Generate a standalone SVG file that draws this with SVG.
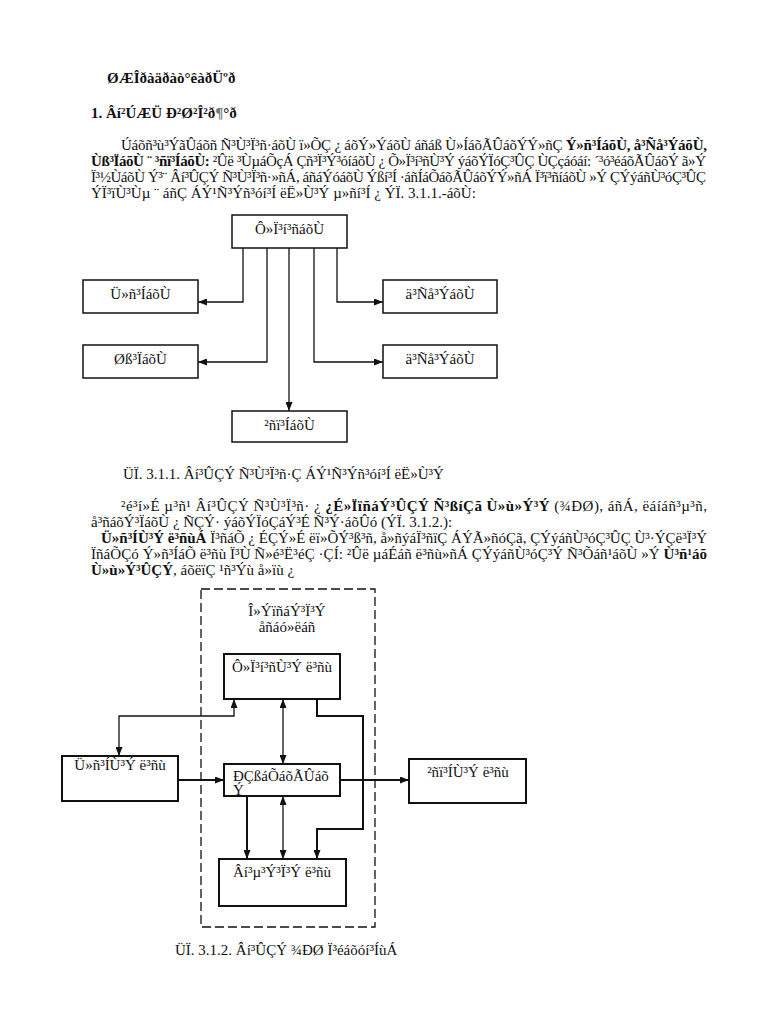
<svg xmlns="http://www.w3.org/2000/svg" width="768" height="1024" viewBox="0 0 768 1024">
<style>
text{font-family:"Liberation Serif","Times New Roman",serif;font-size:15px;fill:#111}
.b{font-weight:bold}
.c{text-anchor:middle}
.box{fill:#fff;stroke:#111;stroke-width:1.5}
.box2{fill:#fff;stroke:#111;stroke-width:2}
.ln{fill:none;stroke:#111;stroke-width:1.3}
.th{fill:none;stroke:#111;stroke-width:2}
.dash{fill:none;stroke:#111;stroke-width:1.3;stroke-dasharray:9 4}
</style>
<defs>
<marker id="ah" markerUnits="userSpaceOnUse" markerWidth="9" markerHeight="7" refX="9" refY="3.5" orient="auto-start-reverse"><path d="M0,0 L9,3.5 L0,7 z" fill="#111"/></marker>
</defs>
<rect width="768" height="1024" fill="#fff"/>

<text class="b" x="107" y="83">ØÆÎðàäðàò°êàðÜºð</text>
<text class="b" x="91" y="118">1. Âí²ÚÆÜ Ð²Ø²Î²ð<tspan fill="#777">¶</tspan>°ð</text>

<text x="121" y="150" textLength="586" lengthAdjust="spacing">Úáõñ³ù³ÝãÛáõñ Ñ³Ù³Ï³ñ·áõÙ ï»ÕÇ ¿ áõÝ»ÝáõÙ áñáß Ù»ÍáõÃÛáõÝÝ»ñÇ <tspan class="b">Ý»ñ³ÍáõÙ, å³Ñå³ÝáõÙ,</tspan></text>
<text x="91" y="166" textLength="615" lengthAdjust="spacing"><tspan class="b">Ùß³ÏáõÙ ¨ ³ñï³ÍáõÙ:</tspan> ²Ûë ³ÙµáÕçÁ Çñ³Ï³Ý³óíáõÙ ¿ Õ»Ï³í³ñÙ³Ý ýáõÝÏóÇ³ÛÇ ÙÇçáóáí: ´³ó³éáõÃÛáõÝ ã»Ý</text>
<text x="91" y="182" textLength="615" lengthAdjust="spacing">Ï³½ÙáõÙ Ý³¨ Âí³ÛÇÝ Ñ³Ù³Ï³ñ·»ñÁ, áñáÝóáõÙ Ýßí³Í ·áñÍáÕáõÃÛáõÝÝ»ñÁ Ï³ï³ñíáõÙ »Ý ÇÝýáñÙ³óÇ³ÛÇ</text>
<text x="91" y="198">ÝÏ³ïÙ³Ùµ ¨ áñÇ ÁÝ¹Ñ³Ýñ³óí³Í ëË»Ù³Ý µ»ñí³Í ¿ ÝÏ. 3.1.1.-áõÙ:</text>

<g id="d1-connectors">
<polyline class="ln" points="243,248 243,302 198,302" marker-end="url(#ah)"/>
<polyline class="ln" points="267,248 267,362 198,362" marker-end="url(#ah)"/>
<polyline class="ln" points="289,248 289,411" marker-end="url(#ah)"/>
<polyline class="ln" points="314,248 314,362 383,362" marker-end="url(#ah)"/>
<polyline class="ln" points="337,248 337,302 383,302" marker-end="url(#ah)"/>
</g>
<g id="n-control1"><rect class="box" x="232" y="215" width="115" height="33"/><text class="c" x="289.5" y="234">Ô»Ï³í³ñáõÙ</text></g>
<g id="n-input1"><rect class="box" x="83" y="280" width="115" height="33"/><text class="c" x="140.5" y="299">Ü»ñ³ÍáõÙ</text></g>
<g id="n-process1"><rect class="box" x="83" y="345" width="115" height="33"/><text class="c" x="140.5" y="364">Øß³ÏáõÙ</text></g>
<g id="n-store1a"><rect class="box" x="383" y="280" width="114" height="33"/><text class="c" x="440" y="299">ä³Ñå³ÝáõÙ</text></g>
<g id="n-store1b"><rect class="box" x="383" y="345" width="114" height="33"/><text class="c" x="440" y="364">ä³Ñå³ÝáõÙ</text></g>
<g id="n-output1"><rect class="box" x="232" y="411" width="115" height="31"/><text class="c" x="289.5" y="430">²ñï³ÍáõÙ</text></g>

<text x="123" y="479">ÜÏ. 3.1.1. Âí³ÛÇÝ Ñ³Ù³Ï³ñ·Ç ÁÝ¹Ñ³Ýñ³óí³Í ëË»Ù³Ý</text>

<text x="121" y="511" textLength="586" lengthAdjust="spacing">²é³í»É µ³ñ¹ Âí³ÛÇÝ Ñ³Ù³Ï³ñ· ¿ <tspan class="b">¿É»ÏïñáÝ³ÛÇÝ Ñ³ßíÇã Ù»ù»Ý³Ý</tspan> (¾ÐØ), áñÁ, ëáíáñ³µ³ñ,</text>
<text x="91" y="527">å³ñáõÝ³ÏáõÙ ¿ ÑÇÝ· ýáõÝÏóÇáÝ³É Ñ³Ý·áõÛó (ÝÏ. 3.1.2.):</text>
<text x="101" y="543" textLength="606" lengthAdjust="spacing"><tspan class="b">Ü»ñ³ÍÙ³Ý ë³ñùÁ</tspan> Ï³ñáÕ ¿ ÉÇÝ»É ëï»ÕÝ³ß³ñ, å»ñýáÏ³ñïÇ ÁÝÃ»ñóÇã, ÇÝýáñÙ³óÇ³ÛÇ Ù³·ÝÇë³Ï³Ý</text>
<text x="91" y="559" textLength="616" lengthAdjust="spacing">ÏñáÕÇó Ý»ñ³ÍáÕ ë³ñù Ï³Ù Ñ»é³Ë³éÇ ·ÇÍ: ²Ûë µáÉáñ ë³ñù»ñÁ ÇÝýáñÙ³óÇ³Ý Ñ³Õáñ¹áõÙ »Ý <tspan class="b">Ù³ñ¹áõ</tspan></text>
<text x="91" y="575"><tspan class="b">Ù»ù»Ý³ÛÇÝ</tspan>, áõëïÇ ¹ñ³Ýù å»ïù ¿</text>

<g id="n-cpu">
<rect class="dash" x="201" y="589" width="174" height="338"/>
<text class="c" x="287" y="616">Î»ÝïñáÝ³Ï³Ý</text>
<text class="c" x="287" y="632">åñáó»ëáñ</text>
</g>

<g id="d2-connectors">
<line class="th" x1="178" y1="780" x2="224" y2="780" marker-end="url(#ah)"/>
<line class="th" x1="340" y1="780" x2="409" y2="780" marker-end="url(#ah)"/>
<polyline class="ln" points="119,756 119,716 234,716 234,699" marker-start="url(#ah)" marker-end="url(#ah)"/>
<line class="ln" x1="283" y1="699" x2="283" y2="764" marker-start="url(#ah)" marker-end="url(#ah)"/>
<polyline class="th" points="317,699 317,716 363,716 363,829 317,829 317,859" marker-end="url(#ah)"/>
<line class="th" x1="247" y1="796" x2="247" y2="859" marker-end="url(#ah)"/>
<line class="ln" x1="283" y1="796" x2="283" y2="859" marker-start="url(#ah)" marker-end="url(#ah)"/>
</g>

<g id="n-control2"><rect class="box2" x="224" y="654" width="116" height="45"/><text class="c" x="282" y="672">Ô»Ï³í³ñÙ³Ý ë³ñù</text></g>
<g id="n-input2"><rect class="box2" x="62" y="756" width="116" height="45"/><text class="c" x="120" y="770">Ü»ñ³ÍÙ³Ý ë³ñù</text></g>
<g id="n-memory"><rect class="box2" x="224" y="764" width="116" height="32"/><text x="233" y="781">ÐÇßáÕáõÃÛáõ</text><text x="233" y="795">Ý</text></g>
<g id="n-output2"><rect class="box2" x="409" y="759" width="117" height="44"/><text class="c" x="468" y="777">²ñï³ÍÙ³Ý ë³ñù</text></g>
<g id="n-alu"><rect class="box2" x="219" y="859" width="127" height="47"/><text class="c" x="282" y="877">Âí³µ³Ý³Ï³Ý ë³ñù</text></g>

<text x="175" y="955">ÜÏ. 3.1.2. Âí³ÛÇÝ ¾ÐØ Ï³éáõóí³ÍùÁ</text>
</svg>
